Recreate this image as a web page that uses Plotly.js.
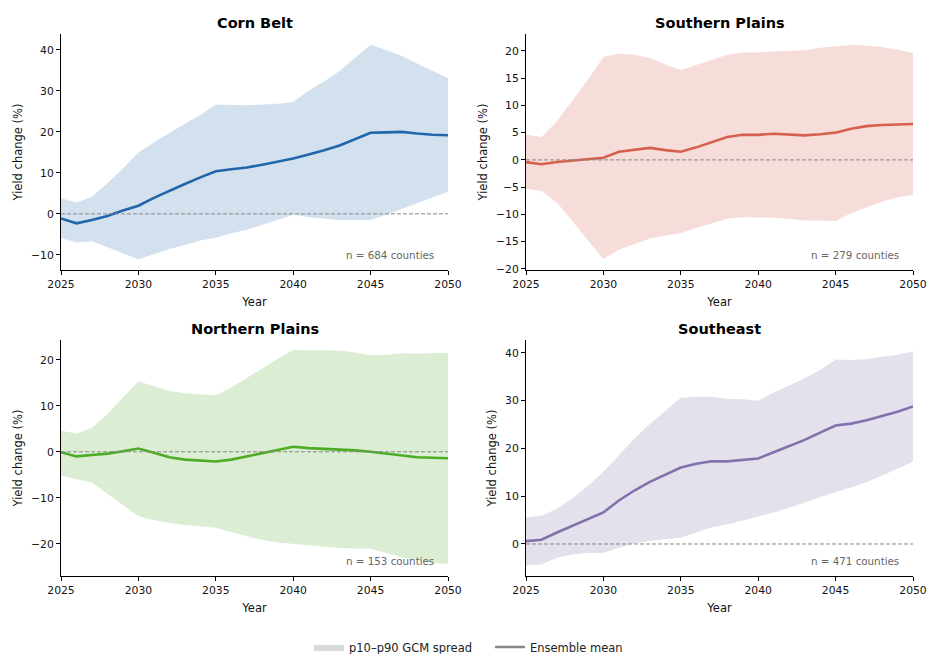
<!DOCTYPE html>
<html>
<head>
<meta charset="utf-8">
<script src="https://cdn.plot.ly/plotly-3.0.1.min.js"></script>
<style>html,body{margin:0;padding:0;background:#fff;}#chart{width:927px;height:654px;}</style>
</head>
<body>
<div id="chart"></div>
<script>
const years = [2025,2026,2027,2028,2029,2030,2031,2032,2033,2034,2035,2036,2037,2038,2039,2040,2041,2042,2043,2044,2045,2046,2047,2048,2049,2050];

const regionNames = ["Corn Belt", "Southern Plains", "Northern Plains", "Southeast"];
const countyCounts = [684, 279, 153, 471];

const cornMean = [-1.1,-2.3,-1.5,-0.5,0.8,2.0,3.9,5.7,7.3,8.9,10.4,10.9,11.3,12.0,12.7,13.5,14.5,15.5,16.7,18.2,19.8,19.9,20.0,19.6,19.3,19.2];
const cornP90  = [3.8,2.8,4.2,7.5,11.1,15.0,17.4,19.8,22.0,24.1,26.7,26.6,26.5,26.7,26.9,27.3,30.1,32.3,34.9,38.1,41.3,40.0,38.6,36.7,34.9,33.1];
const cornP10  = [-5.9,-7.0,-6.7,-8.1,-9.6,-11.1,-9.8,-8.6,-7.6,-6.5,-5.8,-4.7,-3.9,-2.7,-1.5,-0.2,-0.8,-1.2,-1.5,-1.5,-1.5,-0.2,1.2,2.6,4.0,5.4];

const southPlMean = [-0.4,-0.8,-0.4,-0.1,0.1,0.4,1.5,1.9,2.2,1.8,1.5,2.3,3.3,4.2,4.6,4.6,4.8,4.7,4.5,4.7,5.0,5.7,6.2,6.4,6.5,6.6];
const southPlP90  = [4.6,4.2,7.1,10.8,14.7,18.9,19.5,19.3,18.7,17.5,16.5,17.4,18.3,19.3,19.7,19.7,19.9,20.0,20.1,20.6,20.9,21.1,21.0,20.7,20.2,19.6];
const southPlP10  = [-5.3,-5.7,-7.8,-11.3,-14.7,-18.2,-16.5,-15.4,-14.4,-13.9,-13.4,-12.5,-11.7,-10.8,-10.5,-10.5,-10.6,-10.8,-11.1,-11.1,-11.2,-9.8,-8.7,-7.7,-6.9,-6.4];

const northPlMean = [-0.1,-1.0,-0.7,-0.4,0.1,0.7,-0.2,-1.2,-1.7,-1.9,-2.1,-1.7,-1.0,-0.3,0.4,1.1,0.8,0.65,0.5,0.3,0.0,-0.4,-0.7,-1.2,-1.3,-1.4];
const northPlP90  = [4.6,4.0,5.2,8.2,11.8,15.3,14.3,13.2,12.7,12.5,12.3,14.0,16.1,18.1,20.2,22.1,22.1,22.0,22.0,21.6,21.0,21.1,21.4,21.3,21.5,21.5];
const northPlP10  = [-5.2,-5.9,-6.7,-9.2,-11.7,-14.0,-14.8,-15.5,-15.9,-16.2,-16.5,-17.5,-18.4,-19.2,-19.7,-20.0,-20.4,-20.7,-20.9,-21.0,-21.1,-22.0,-22.9,-23.6,-24.1,-24.4];

const southeastMean = [0.6,0.9,2.4,3.8,5.2,6.6,9.1,11.2,13.0,14.5,16.0,16.8,17.3,17.3,17.6,17.9,19.2,20.5,21.8,23.3,24.8,25.2,25.9,26.8,27.7,28.8];
const southeastP90  = [5.6,5.9,7.4,9.6,12.2,15.1,18.6,22.1,25.1,27.9,30.6,30.8,30.8,30.4,30.3,30.0,31.7,33.2,34.7,36.4,38.6,38.5,38.7,39.2,39.6,40.3];
const southeastP10  = [-4.5,-4.3,-2.9,-2.2,-1.9,-1.9,-0.8,0.1,0.7,1.0,1.3,2.4,3.5,4.1,4.9,5.7,6.6,7.6,8.7,9.9,10.9,11.8,12.9,14.3,15.7,17.2];

const xTicks = [2025,2030,2035,2040,2045,2050];
const yTicksPerPanel = [[-10,0,10,20,30,40],[-20,-15,-10,-5,0,5,10,15,20],[-20,-10,0,10,20],[0,10,20,30,40]];
const legendLabels = ["p10\u2013p90 GCM spread", "Ensemble mean"];

// ---- styling / layout ----
const lineColors = ["#2166ac", "#d6604d", "#4dac26", "#8073ac"];
const fillColors = ["rgba(33,102,172,0.2)", "rgba(214,96,77,0.21)", "rgba(77,172,38,0.2)", "rgba(128,115,172,0.21)"];
const yRanges = [[-13.7, 43.9], [-20.2, 23.1], [-27.0, 24.3], [-6.7, 42.7]];
const W = 927, H = 654;
const xDomains = [[61/W, 448/W], [526/W, 913/W], [61/W, 448/W], [526/W, 913/W]];
const yDomains = [[(H-270)/H, (H-34)/H], [(H-270)/H, (H-34)/H], [(H-576)/H, (H-340)/H], [(H-576)/H, (H-340)/H]];

const means = [cornMean, southPlMean, northPlMean, southeastMean];
const p90s = [cornP90, southPlP90, northPlP90, southeastP90];
const p10s = [cornP10, southPlP10, northPlP10, southeastP10];

const FONT = "DejaVu Sans, sans-serif";
const traces = [];
const layout = {
  width: W, height: H,
  margin: {l: 0, r: 0, t: 0, b: 0, autoexpand: false},
  paper_bgcolor: "#fff", plot_bgcolor: "#fff",
  font: {family: FONT, color: "#000"},
  showlegend: true,
  legend: {orientation: "h", x: 309/W, xanchor: "left", y: (H-647)/H, yanchor: "middle",
           font: {size: 11.5, family: FONT, color: "#222"}, itemwidth: 30, tracegroupgap: 0,
           entrywidth: 136, entrywidthmode: "pixels", traceorder: "normal"},
  annotations: [], shapes: []
};

for (let i = 0; i < 4; i++) {
  const s = i === 0 ? "" : String(i+1);
  const xa = "x" + s, ya = "y" + s;
  traces.push({x: years, y: p10s[i], xaxis: xa, yaxis: ya, mode: "lines", line: {width: 0, color: fillColors[i]},
               showlegend: false, hoverinfo: "skip"});
  traces.push({x: years, y: p90s[i], xaxis: xa, yaxis: ya, mode: "lines", line: {width: 0, color: fillColors[i]},
               fill: "tonexty", fillcolor: fillColors[i], showlegend: false, hoverinfo: "skip"});
  traces.push({x: years, y: means[i], xaxis: xa, yaxis: ya, mode: "lines", line: {width: 2.6, color: lineColors[i]},
               showlegend: false});
  layout["xaxis" + s] = {
    domain: xDomains[i], anchor: ya, range: [2025, 2050], tickvals: xTicks,
    showline: true, linecolor: "#000", linewidth: 1, ticks: "outside", ticklen: 4, tickwidth: 1, tickcolor: "#000",
    showgrid: false, zeroline: false, tickfont: {size: 10.8, family: FONT, color: "#111"},
    title: {text: "Year", font: {size: 11.5, family: FONT, color: "#111"}, standoff: 7}
  };
  layout["yaxis" + s] = {
    domain: yDomains[i], anchor: xa, range: yRanges[i], tickvals: yTicksPerPanel[i],
    showline: true, linecolor: "#000", linewidth: 1, ticks: "outside", ticklen: 4, tickwidth: 1, tickcolor: "#000",
    showgrid: false, zeroline: false, tickfont: {size: 10.8, family: FONT, color: "#111"},
    title: {text: "Yield change (%)", font: {size: 11.5, family: FONT, color: "#111"}, standoff: 6}
  };
  layout.shapes.push({type: "line", xref: xa + " domain", yref: ya, x0: 0, x1: 1, y0: 0, y1: 0,
                      line: {color: "#888", width: 1, dash: "4px,2px"}, layer: "above"});
  layout.annotations.push({text: "<b>" + regionNames[i] + "</b>", xref: xa + " domain", yref: ya + " domain",
                           x: 0.5, y: 1.047, xanchor: "center", yanchor: "middle", showarrow: false,
                           font: {size: 14.5, family: FONT, color: "#000"}});
  layout.annotations.push({text: "n = " + countyCounts[i] + " counties", xref: xa + " domain", yref: ya + " domain",
                           x: 0.97, y: 0.064, xanchor: "right", yanchor: "middle", showarrow: false,
                           font: {size: 10.3, family: FONT, color: "#666"}});
}

// legend proxies
traces.push({x: [null], y: [null], xaxis: "x", yaxis: "y", mode: "lines", fill: "toself", fillcolor: "#d9d9d9",
             line: {width: 0, color: "#d9d9d9"}, name: legendLabels[0], showlegend: true, legendrank: 1});
traces.push({x: [null], y: [null], xaxis: "x", yaxis: "y", mode: "lines", line: {width: 2.6, color: "#888"},
             name: legendLabels[1], showlegend: true, legendrank: 2});

Plotly.newPlot("chart", traces, layout, {staticPlot: true, displayModeBar: false});
</script>
</body>
</html>
